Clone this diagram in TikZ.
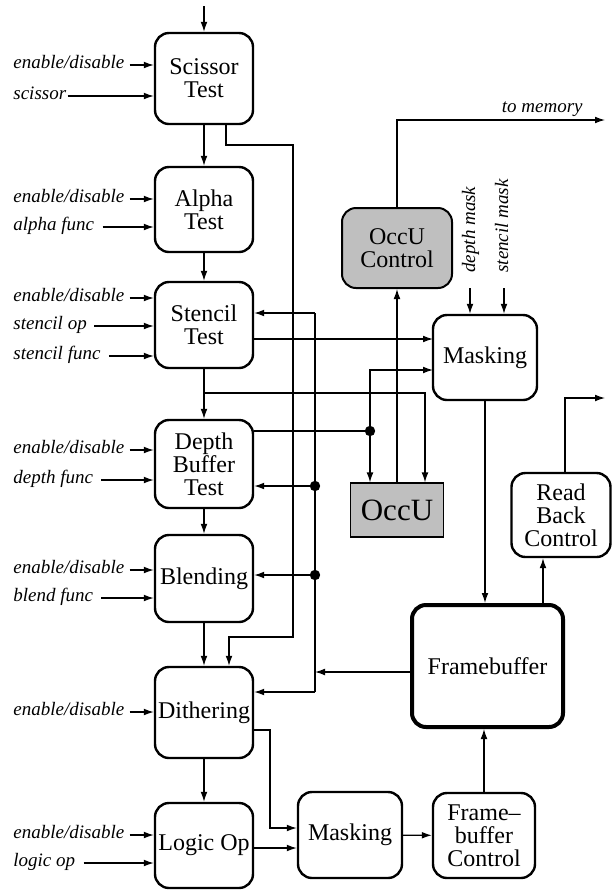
\documentclass[tikz,border=0pt]{standalone}
\usepackage{fontspec}
\setmainfont{Liberation Serif}
\usetikzlibrary{arrows.meta}
\begin{document}
\begin{tikzpicture}[x=0.5pt,y=-0.5pt,
  box/.style={draw, line width=1.2pt, rounded corners=7pt, align=center, inner sep=0pt,
    font=\fontsize{12}{11.6}\selectfont, minimum width=49pt},
  graybox/.style={box, fill=black!25, line width=1pt},
  occu/.style={draw, fill=black!25, line width=0.6pt, inner sep=0pt,
    font=\fontsize{15.5}{16}\selectfont, minimum width=46.5pt, minimum height=27pt},
  lab/.style={font=\fontsize{9.5}{10}\selectfont\itshape, inner sep=0pt, anchor=west,
    text height=5pt, text depth=2pt},
  arr/.style={line width=0.6pt, -{Latex[length=5pt,width=3.4pt]}},
  wire/.style={line width=0.6pt}
]
\useasboundingbox (0,0) rectangle (612,891);

% left column
\node[box, minimum height=45.5pt] (sc) at (204,78.5) {Scissor\\Test};
\node[box, minimum height=42.5pt] (al) at (204,209.5) {Alpha\\Test};
\node[box, minimum height=43pt] (st) at (204,325) {Stencil\\Test};
\node[box, minimum height=44pt] (de) at (204,464) {Depth\\Buffer\\Test};
\node[box, minimum height=43.5pt] (bl) at (204,578.5) {Blending};
\node[box, minimum height=45.5pt] (di) at (204,712.5) {Dithering};
\node[box, minimum height=42.5pt] (lo) at (204,845.5) {Logic Op};

% right side
\node[graybox, minimum width=55pt, minimum height=40pt] (ocn) at (397,248) {OccU\\Control};
\node[box, minimum width=52pt, minimum height=42.5pt] (mk) at (485,357.5) {Masking};
\node[occu] (oc) at (397,510) {OccU};
\node[box, minimum width=49.5pt, minimum height=42pt] (rb) at (561,515) {Read\\Back\\Control};
\node[box, line width=2pt, minimum width=75.5pt, minimum height=61pt] (fb) at (487.5,666) {Framebuffer};
\node[box, minimum width=52pt, minimum height=43pt] (mk2) at (350,835) {Masking};
\node[box, minimum width=51pt, minimum height=42.5pt] (fbc) at (484,835.5) {Frame–\\buffer\\Control};

% main chain
\coordinate (top) at (204,6);
\draw[arr] (top) -- (sc.north);
\draw[arr] (sc) -- (al);
\draw[arr] (al) -- (st);
\draw[arr] (st) -- (de);
\draw[arr] (de) -- (bl);
\draw[arr] (bl) -- (di);
\draw[arr] (di) -- (lo);

% left inputs
\node[lab] (e1) at (13,65) {enable/disable};
\node[lab] (e2) at (13,96) {scissor};
\draw[arr] ([xshift=2.5pt]e1.east) -- (sc.west |- e1.east);
\draw[arr] ([xshift=0.5pt]e2.east) -- (sc.west |- e2.east);

\node[lab] (e3) at (13,199) {enable/disable};
\node[lab] (e4) at (13,227) {alpha func};
\draw[arr] ([xshift=2.5pt]e3.east) -- (al.west |- e3.east);
\draw[arr] ([xshift=4pt]e4.east) -- (al.west |- e4.east);

\node[lab] (e5) at (13,298) {enable/disable};
\node[lab] (e6) at (13,326) {stencil op};
\node[lab] (e7) at (13,356) {stencil func};
\draw[arr] ([xshift=2.5pt]e5.east) -- (st.west |- e5.east);
\draw[arr] ([xshift=3.5pt]e6.east) -- (st.west |- e6.east);
\draw[arr] ([xshift=4pt]e7.east) -- (st.west |- e7.east);

\node[lab] (e8) at (13,450) {enable/disable};
\node[lab] (e9) at (13,480) {depth func};
\draw[arr] ([xshift=2.5pt]e8.east) -- (de.west |- e8.east);
\draw[arr] ([xshift=4pt]e9.east) -- (de.west |- e9.east);

\node[lab] (e10) at (13,570) {enable/disable};
\node[lab] (e11) at (13,598) {blend func};
\draw[arr] ([xshift=2.5pt]e10.east) -- (bl.west |- e10.east);
\draw[arr] ([xshift=4pt]e11.east) -- (bl.west |- e11.east);

\node[lab] (e12) at (13,712) {enable/disable};
\draw[arr] ([xshift=2.5pt]e12.east) -- (di.west |- e12.east);

\node[lab] (e13) at (13,835) {enable/disable};
\node[lab] (e14) at (13,863) {logic op};
\draw[arr] ([xshift=2.5pt]e13.east) -- (lo.west |- e13.east);
\draw[arr] ([xshift=4pt]e14.east) -- (lo.west |- e14.east);

% scissor bypass to dithering
\coordinate (s1) at (293,145);
\coordinate (s2) at (293,637);
\draw[arr] ([xshift=11pt]sc.south) |- (s1) -- (s2) -| ([xshift=12.5pt]di.north);

% framebuffer readback bus
\coordinate (b1) at (315,313);
\coordinate (b2) at (315,486);
\coordinate (b3) at (315,575);
\coordinate (b4) at (315,692);
\coordinate (f1) at (315,672);
\draw[wire] (b1) -- (b4);
\draw[arr] (b1) -- (st.east |- b1);
\draw[arr] (b2) -- (de.east |- b2);
\draw[arr] (b3) -- (bl.east |- b3);
\draw[arr] (b4) -- (di.east |- b4);
\fill (b2) circle[radius=2.6pt];
\fill (b3) circle[radius=2.6pt];
\draw[arr] (fb.west |- f1) -- (f1);

% stencil output to masking
\coordinate (m1) at (433,339);
\draw[arr] (st.east |- m1) -- (m1);

% depth output
\coordinate (d1) at (370,431);
\coordinate (m2) at (433,370);
\draw[wire] (de.east |- d1) -- (d1);
\fill (d1) circle[radius=2.6pt];
\draw[arr] (d1) |- (m2);
\draw[arr] (d1) -- (d1 |- oc.north);

% branch to OccU
\coordinate (t1) at (204,393);
\coordinate (t2) at (425,393);
\draw[arr] (t1) -- (t2) -- (t2 |- oc.north);

% OccU to control, control to memory
\draw[arr] (oc.north) -- (ocn.south);
\coordinate (tm) at (605,120);
\draw[arr] (ocn.north) |- (tm);
\node[lab, anchor=base east] (tmL) at (583,112) {to memory};

% masks
\node[lab, rotate=90] (dm) at (472,273) {depth mask};
\node[lab, rotate=90] (sm) at (505,273) {stencil mask};
\coordinate (dm0) at (470,288);
\coordinate (sm0) at (504,288);
\draw[arr] (dm0) -- (dm0 |- mk.north);
\draw[arr] (sm0) -- (sm0 |- mk.north);

% masking to framebuffer
\draw[arr] (mk.south) -- (mk.south |- fb.north);

% framebuffer to read back
\draw[arr] ([xshift=27.75pt]fb.north) -- ([xshift=27.75pt]fb.north |- rb.south);
\coordinate (rb2) at (605,398);
\draw[arr] ([xshift=2pt]rb.north) |- (rb2);

% lower path
\coordinate (dd1) at (270,730);
\coordinate (dd2) at (270,828);
\draw[arr] (di.east |- dd1) -- (dd1) -- (dd2) -- (mk2.west |- dd2);
\coordinate (lo1) at (0,848);
\draw[arr] (lo.east |- lo1) -- (mk2.west |- lo1);
\draw[arr] (mk2) -- (fbc);
\draw[arr] (fbc.north) -- (fbc.north |- fb.south);
\end{tikzpicture}
\end{document}
